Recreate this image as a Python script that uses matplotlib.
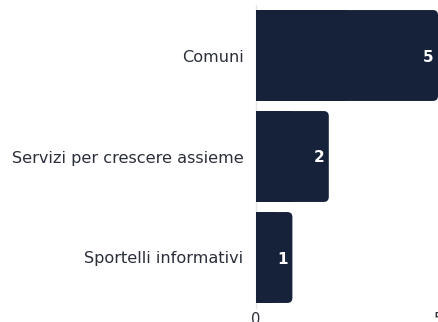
import matplotlib
matplotlib.use("Agg")
import matplotlib.pyplot as plt
from matplotlib.patches import FancyBboxPatch

categories = ["Comuni", "Servizi per crescere assieme", "Sportelli informativi"]
values = [5, 2, 1]
x_ticks = [0, 5]

BAR_COLOR = "#16213a"
TEXT_COLOR = "#2b2f3a"

plt.rcParams["font.family"] = ["DejaVu Sans"]

fig = plt.figure(figsize=(4.39, 3.22), dpi=100)
ax = fig.add_axes([256 / 439, 14 / 322, 182 / 439, 303 / 322])

ypos = list(range(len(categories)))
bars = ax.barh(ypos, values, height=0.9, color=BAR_COLOR)

# rounded right end: full rounded box + square left half on top
for b in bars:
    x0, y0 = b.get_x(), b.get_y()
    w, h = b.get_width(), b.get_height()
    rr = FancyBboxPatch((x0, y0), w, h,
                        boxstyle="round,pad=0,rounding_size=0.14",
                        mutation_aspect=0.36,
                        fc=BAR_COLOR, ec="none", zorder=2)
    ax.add_patch(rr)
    b.set_width(w / 2)
    b.set_zorder(3)

for y, v in zip(ypos, values):
    ax.annotate(str(v), (v, y), xytext=(-3, 0), textcoords="offset points",
                ha="right", va="center_baseline", color="white", fontsize=11,
                fontweight="bold", zorder=4)

ax.set_xlim(0, 5)
ax.set_ylim(len(categories) - 0.5, -0.5)
ax.set_yticks(ypos)
ax.set_yticklabels(categories, fontsize=11.6, color=TEXT_COLOR, va="center_baseline")
ax.set_xticks(x_ticks)
ax.set_xticklabels([str(t) for t in x_ticks], fontsize=10.5, color=TEXT_COLOR)
ax.tick_params(axis="both", length=0)
ax.tick_params(axis="y", pad=9)
ax.tick_params(axis="x", pad=3)

for s in ["top", "right", "bottom"]:
    ax.spines[s].set_visible(False)
ax.spines["left"].set_color("#e3e5ea")
ax.spines["left"].set_linewidth(1)

fig.savefig("out.png", dpi=100)
